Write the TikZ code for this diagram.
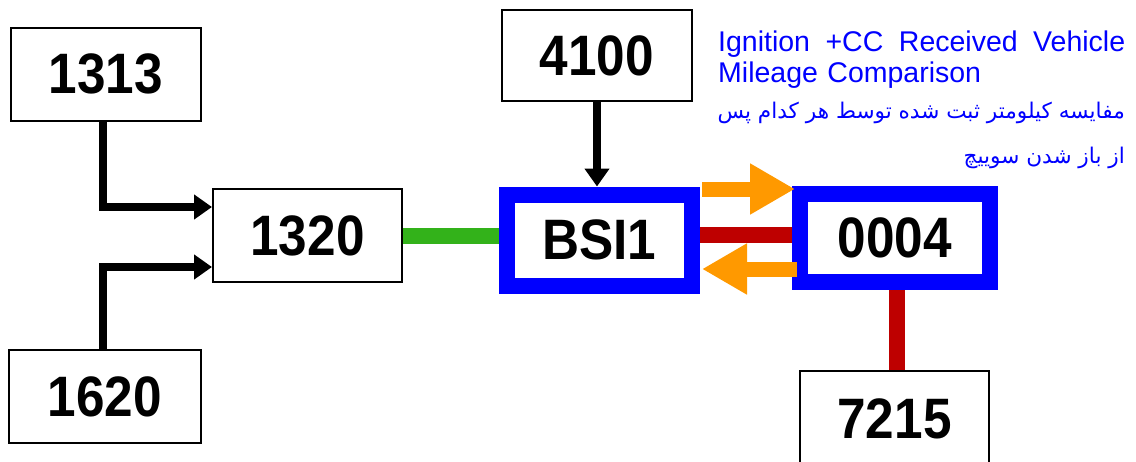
\documentclass[tikz,border=0pt]{standalone}
\usepackage{fontspec}
\usepackage{tikz}
\usetikzlibrary{arrows.meta}
\setmainfont{Liberation Sans}
\newfontfamily\idfont[FakeStretch=0.9]{Liberation Sans}
\newfontfamily\farsifont[Script=Arabic]{DejaVu Sans}
\TeXXeTstate=1
\definecolor{ecublue}{RGB}{0,0,255}
\definecolor{busgreen}{RGB}{51,178,26}
\definecolor{busred}{RGB}{190,0,0}
\definecolor{msgorange}{RGB}{255,153,0}

\begin{document}
\begin{tikzpicture}[x=1pt, y=-1pt, >={Triangle[width=24pt,length=18pt]},
    ecu/.style={draw, line width=2pt, minimum width=190pt, minimum height=93pt,
      inner sep=0pt, font=\idfont\bfseries\fontsize{57}{60}\selectfont},
    ecumark/.style={ecu, draw=ecublue, line width=16pt},
    link/.style={->, line width=8pt},
    bus/.style={line width=16pt},
    msg/.style={msgorange, line width=15pt, -{Triangle[width=48pt,length=45pt]}}]
        \useasboundingbox (0,0) rectangle (1136,461);
        % 計算機
        \node[ecu] (n1313) at (106,74) {1313};
        \node[ecu, minimum width=189pt] (n1320) at (307.5,235.5) {1320};
        \node[ecu, minimum width=192pt] (n1620) at (105,396.5) {1620};
        \node[ecu, minimum height=91pt] (n4100) at (597,55.5) {4100};
        \node[ecumark, minimum width=185pt, minimum height=91pt] (bsi) at (599.5,240) {BSI1};
        \node[ecumark, minimum height=88pt] (n0004) at (895,238) {0004};
        \node[ecu, minimum width=189pt, minimum height=95pt] (n7215) at (894.5,418.5) {7215};
        % 矢印
        \draw[link] ([xshift=-3pt]n1313.south) |- ([yshift=28.5pt]n1320.west);
        \draw[link] ([xshift=-2pt]n1620.north) |- ([yshift=-31.5pt]n1320.west);
        \draw[link] (n4100.south) -- (n4100.south |- bsi.north);
        % 通信線
        \draw[bus, busgreen] (n1320.east) -- (n1320.east -| bsi.west);
        \draw[bus, busred] ([yshift=5pt]bsi.east) -- ([yshift=5pt]bsi.east -| n0004.west);
        \draw[bus, busred] ([xshift=2pt]n0004.south) -- ([xshift=2pt]n0004.south |- n7215.north);
        % 要求と応答
        \coordinate (reqS) at (702,189);
        \coordinate (reqE) at (795,189);
        \coordinate (ansS) at (797,269);
        \coordinate (ansE) at (702,269);
        \draw[msg] (reqS) -- (reqE);
        \draw[msg] (ansS) -- (ansE);
        % 説明
        \node[anchor=north west, text width=407pt, inner sep=0pt, align=left, text=ecublue,
          font=\fontsize{28.5}{31}\selectfont] (title) at (718,31)
          {Ignition\hfill+CC\hfill Received\hfill Vehicle\\Mileage Comparison};
        \node[anchor=north east, align=right, inner sep=0pt, text=ecublue,
          font=\farsifont\fontsize{21.6}{45}\selectfont] (farsi) at (1125,102)
          {\beginR مفایسه کیلومتر ثبت شده توسط هر کدام پس\endR\\\beginR از باز شدن سوییچ\endR};
\end{tikzpicture}
\end{document}
